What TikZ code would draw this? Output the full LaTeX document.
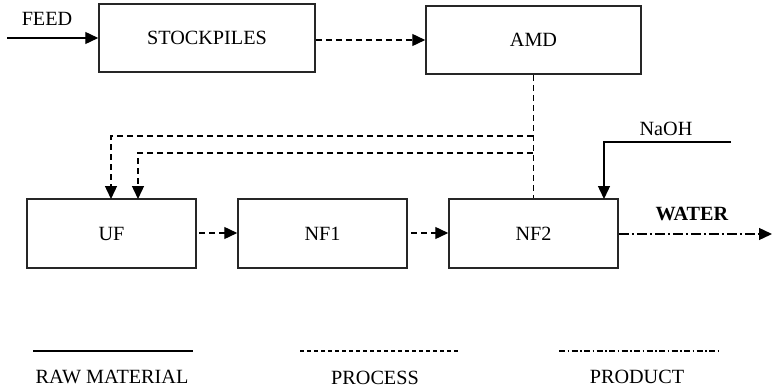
\documentclass[tikz,border=0pt]{standalone}
\usepackage{fontspec}
\setmainfont{Liberation Serif}
\usetikzlibrary{arrows.meta}
\begin{document}
\begin{tikzpicture}[x=1pt,y=-1pt,
  every node/.style={font=\fontsize{20.2}{24}\selectfont},
  blockbox/.style={draw=black!85,line width=1.5pt,inner sep=0pt},
  arr/.style={-{Triangle[length=13pt,width=12pt]}},
  proc/.style={line width=1.4pt,dash pattern=on 6pt off 4pt},
  prod/.style={line width=1.4pt,dash pattern=on 10pt off 3pt on 2pt off 3pt},
  raw/.style={line width=1.4pt},
  lbl/.style={inner sep=0pt}]
\useasboundingbox (0,0) rectangle (772,388);
% boxes
\node[blockbox,minimum width=216pt,minimum height=68pt] (stock) at (207,38) {STOCKPILES};
\node[blockbox,minimum width=215pt,minimum height=68pt] (amd) at (533.5,40) {AMD};
\node[blockbox,minimum width=169pt,minimum height=69pt] (uf) at (111.5,233.5) {UF};
\node[blockbox,minimum width=169pt,minimum height=69pt] (nf1) at (322.5,233.5) {NF1};
\node[blockbox,minimum width=169pt,minimum height=69pt] (nf2) at (533.5,233.5) {NF2};
% labels
\node[lbl] (feed) at (47,19) {FEED};
\node[lbl] (naoh) at (666,129) {NaOH};
\node[lbl] (water) at (692,214) {\textbf{WATER}};
% feed
\coordinate (feedin) at (7,38);
\draw[raw,arr] (feedin) -- (stock.west |- feedin);
% process lines
\draw[proc,arr] (stock.east |- 0,40) -- (amd.west |- 0,40);
\draw[proc] (amd.south) -- (nf2.north);
\coordinate (r1) at (533,136);
\coordinate (r2) at (533,153);
\draw[proc,arr] (r1) -- (111,136) -- (111,199);
\draw[proc,arr] (r2) -- (138,153) -- (138,199);
\draw[proc,arr] (199,233) -- (nf1.west |- 0,233);
\draw[proc,arr] (411,233) -- (nf2.west |- 0,233);
% NaOH
\coordinate (naohin) at (731,142);
\draw[raw,arr] (naohin) -- (604,142) -- (604,199);
% water
\coordinate (waterout) at (772,234);
\draw[prod,arr] (nf2.east |- waterout) -- (waterout);
% legend
\coordinate (l1a) at (33,351); \coordinate (l1b) at (193,351);
\coordinate (l2a) at (300,351); \coordinate (l2b) at (459,351);
\coordinate (l3a) at (559,351); \coordinate (l3b) at (719,351);
\draw[raw] (l1a) -- (l1b);
\draw[line width=1.2pt,dash pattern=on 4pt off 3pt] (l2a) -- (l2b);
\draw[line width=1.2pt,dash pattern=on 6pt off 2.5pt on 1.5pt off 2.5pt] (l3a) -- (l3b);
\node[lbl] (lraw) at (112,377) {RAW MATERIAL};
\node[lbl] (lproc) at (375,378) {PROCESS};
\node[lbl] (lprod) at (637,377) {PRODUCT};
\end{tikzpicture}
\end{document}
